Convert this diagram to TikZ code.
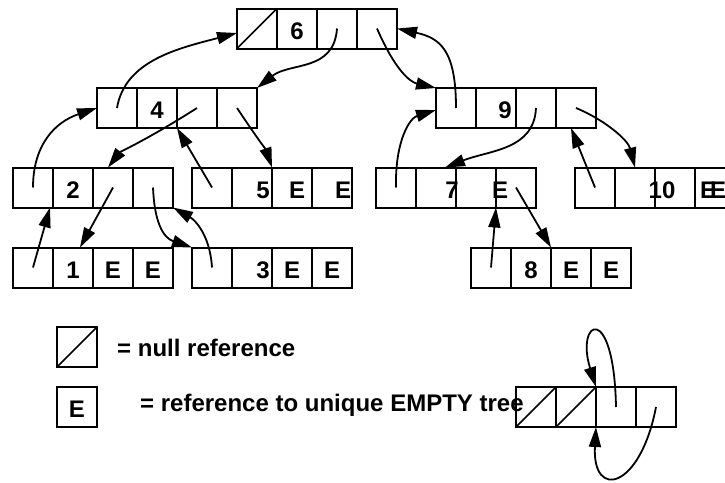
\documentclass[tikz,border=0pt]{standalone}
\usepackage{fontspec}
\setmainfont{Liberation Sans}
\usetikzlibrary{positioning,arrows.meta}

\begin{document}
\begin{tikzpicture}[x=1pt,y=-1pt,node distance=0pt,
  cell/.style={draw,line width=2pt,minimum width=40pt,minimum height=40pt,
    inner sep=0pt,outer sep=0pt,text height=21pt,text depth=0pt,font=\fontsize{24}{26}\selectfont\bfseries},
  txt/.style={inner sep=0pt,text height=21pt,text depth=0pt,font=\fontsize{24}{26}\selectfont\bfseries},
  key/.style={inner sep=0pt,font=\fontsize{24}{26}\selectfont\bfseries},
  null/.style={line width=1.5pt},
  ptr/.style={line width=1.8pt,-{Triangle[length=20pt,width=12pt]}}]

\useasboundingbox (0,0) rectangle (725,482);

% records: parent, value, left, right
\node[cell] (n6-p) at (257,28.5) {};
\node[cell,right=of n6-p] (n6-v) {6};
\node[cell,right=of n6-v] (n6-l) {};
\node[cell,right=of n6-l] (n6-r) {};

\node[cell] (n4-p) at (117,108) {};
\node[cell,right=of n4-p] (n4-v) {4};
\node[cell,right=of n4-v] (n4-l) {};
\node[cell,right=of n4-l] (n4-r) {};

\node[cell] (n9-p) at (456,108) {};
\node[cell,right=of n9-p] (n9-v) {};
\node[cell,right=of n9-v] (n9-l) {};
\node[cell,right=of n9-l] (n9-r) {};

\node[cell] (n2-p) at (33,187.5) {};
\node[cell,right=of n2-p] (n2-v) {2};
\node[cell,right=of n2-v] (n2-l) {};
\node[cell,right=of n2-l] (n2-r) {};

\node[cell] (n5-p) at (212,187.5) {};
\node[cell,right=of n5-p] (n5-v) {};
\node[cell,right=of n5-v] (n5-l) {};
\node[cell,right=of n5-l] (n5-r) {};

\node[cell] (n7-p) at (396,187.5) {};
\node[cell,right=of n7-p] (n7-v) {};
\node[cell,right=of n7-v] (n7-l) {};
\node[cell,right=of n7-l] (n7-r) {};

\node[cell] (n10-p) at (595,187.5) {};
\node[cell,right=of n10-p] (n10-v) {};
\node[cell,right=of n10-v] (n10-l) {};
\node[cell,right=of n10-l] (n10-r) {};

\node[cell] (n1-p) at (33,267.5) {};
\node[cell,right=of n1-p] (n1-v) {1};
\node[cell,right=of n1-v] (n1-l) {E};
\node[cell,right=of n1-l] (n1-r) {E};

\node[cell] (n3-p) at (212,267.5) {};
\node[cell,right=of n3-p] (n3-v) {};
\node[cell,right=of n3-v] (n3-l) {E};
\node[cell,right=of n3-l] (n3-r) {E};

\node[cell] (n8-p) at (491,267.5) {};
\node[cell,right=of n8-p] (n8-v) {8};
\node[cell,right=of n8-v] (n8-l) {E};
\node[cell,right=of n8-l] (n8-r) {E};

\node[cell] (lp-p) at (536,407) {};
\node[cell,right=of lp-p] (lp-v) {};
\node[cell,right=of lp-v] (lp-l) {};
\node[cell,right=of lp-l] (lp-r) {};

% values set off the cell centres
\node[txt] (t9) at ([xshift=9pt]n9-v.center) {9};
\node[txt] (t5) at ([xshift=11pt]n5-v.center) {5};
\node[txt] (t5l) at ([xshift=5pt]n5-l.center) {E};
\node[txt] (t5r) at ([xshift=11pt]n5-r.center) {E};
\node[txt] (t7) at ([xshift=16pt]n7-v.center) {7};
\node[txt] (t7l) at ([xshift=24pt]n7-l.center) {E};
\node[txt] (t10) at ([xshift=27pt]n10-v.center) {10};
\node[txt] (t10a) at ([xshift=-7pt]n10-r.center) {E};
\node[txt] (t10b) at ([xshift=3pt]n10-r.center) {E};
\node[txt] (t3) at ([xshift=11pt]n3-v.center) {3};

% null references
\draw[null] (n6-p.south west) -- (n6-p.north east);
\draw[null] (lp-p.south west) -- (lp-p.north east);
\draw[null] (lp-v.south west) -- (lp-v.north east);

% parent pointers
\draw[ptr] (n4-p.center) .. controls (125,60) and (180,48) .. ([yshift=-4.5pt]n6-p.west);
\draw[ptr] (n9-p.center) .. controls (456,50) and (440,38) .. (n6-r.east);
\draw[ptr] (n2-p.center) .. controls (33,145) and (55,122) .. (n4-p.west);
\draw[ptr] (n5-p.center) -- (n4-v.south east);
\draw[ptr] (n7-p.center) .. controls (395,140) and (410,118) .. ([yshift=-2pt]n9-p.west);
\draw[ptr] (n10-p.center) -- ([xshift=-5pt]n9-r.south);
\draw[ptr] (n1-p.center) -- ([xshift=-3pt]n2-p.south east);
\draw[ptr] (n3-p.center) .. controls (210,235) and (195,220) .. (n2-r.south east);
\draw[ptr] (n8-p.center) -- (n7-l.south east);

% child pointers
\draw[ptr] (n6-l.center) .. controls (334,72) and (290,62) .. (n4-r.north east);
\draw[ptr] (n6-r.center) .. controls (395,70) and (410,82) .. (n9-p.north west);
\draw[ptr] (n4-l.center) .. controls (150,138) and (120,152) .. ([xshift=-5pt]n2-l.north);
\draw[ptr] (n4-r.center) .. controls (255,135) and (266,150) .. (n5-v.north east);
\draw[ptr] (n9-l.center) .. controls (534,150) and (490,150) .. ([xshift=9pt]n7-v.north);
\draw[ptr] (n9-r.center) .. controls (605,120) and (628,140) .. (n10-v.north);
\draw[ptr] (n2-l.center) -- ([xshift=7pt]n1-v.north);
\draw[ptr] (n2-r.center) .. controls (155,235) and (170,240) .. (n3-p.north west);
\draw[ptr] (n7-r.center) -- (n8-v.north east);

% self loops
\draw[ptr] (lp-l.center) .. controls (614,300) and (575,320) .. (lp-l.north west);
\draw[ptr] (lp-r.center) .. controls (640,490) and (592,500) .. (lp-l.south west);

% legend
\node[cell] (nullkey) at (77,347) {};
\draw[null] (nullkey.south west) -- (nullkey.north east);
\node[key,anchor=west] (nulltext) at (117,348) {= null reference};

\node[cell] (emptykey) at (77,407) {E};
\node[key,anchor=base west] (emptytext) at (140,411) {= reference to unique EMPTY tree};
\end{tikzpicture}
\end{document}
